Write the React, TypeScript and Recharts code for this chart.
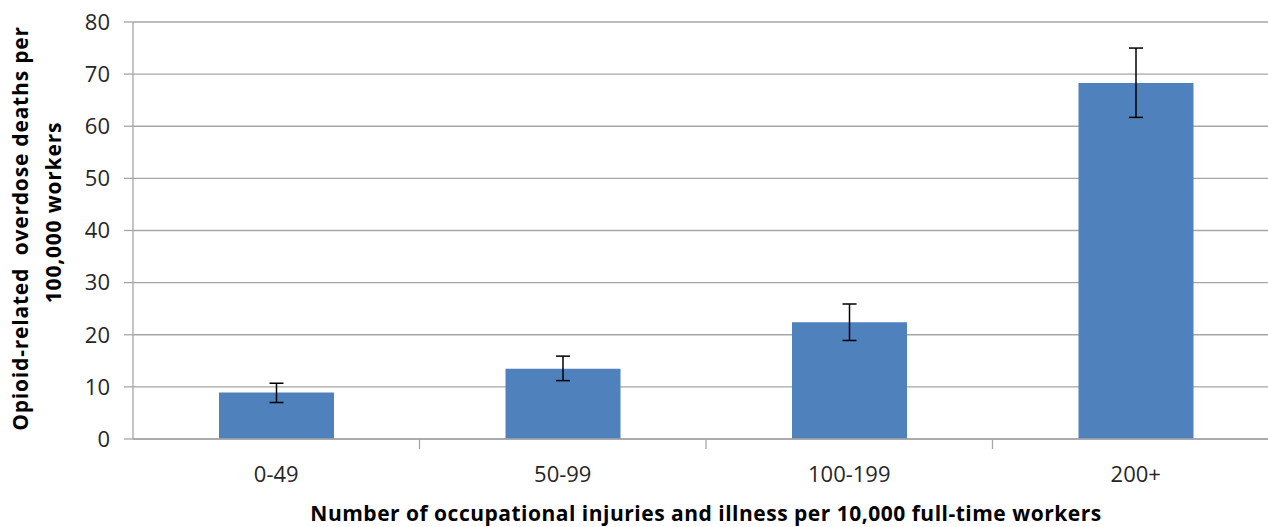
import { Bar, BarChart, CartesianGrid, ErrorBar, XAxis, YAxis } from "recharts";

const categories = ["0-49", "50-99", "100-199", "200+"];
const rates = [8.9, 13.5, 22.4, 68.3];
const lowerBounds = [7.0, 11.2, 18.9, 61.7];
const upperBounds = [10.7, 15.9, 25.9, 75.0];
const yTicks = [0, 10, 20, 30, 40, 50, 60, 70, 80];

const data = categories.map((name, i) => ({
  name,
  value: rates[i],
  err: [rates[i] - lowerBounds[i], upperBounds[i] - rates[i]]
}));

const CHART_W = 1280;
const Y_AXIS_W = 133;
const MARGIN = { top: 22, right: 1, bottom: 0, left: 0 };
const band = (CHART_W - Y_AXIS_W - MARGIN.left - MARGIN.right) / categories.length;
const FONT = "'Open Sans', sans-serif";
const GRID = "#a6a6a6";

function CategoryTick(props: any) {
  const { x, y, payload } = props;
  return (
    <g>
      <line x1={x + band / 2} x2={x + band / 2} y1={y - 8} y2={y + 2} stroke={GRID} strokeWidth={1.3} />
      <text x={x} y={y + 35} textAnchor="middle" fontFamily={FONT} fontSize={22} fill="#262626">
        {payload.value}
      </text>
    </g>
  );
}

function YTitle(props: any) {
  const vb = props.viewBox || {};
  const cy = vb.y + vb.height / 2;
  const style = { fontFamily: FONT, fontWeight: 700, fontSize: 21, letterSpacing: 0.8, fill: "#000", whiteSpace: "pre" as const };
  return (
    <g>
      <text x={28} y={cy - 2} transform={`rotate(-90 28 ${cy - 2})`} textAnchor="middle" style={style}>
        {"Opioid-related  overdose deaths per"}
      </text>
      <text x={61} y={cy - 18} transform={`rotate(-90 61 ${cy - 18})`} textAnchor="middle" style={style}>
        {"100,000 workers"}
      </text>
    </g>
  );
}

export default function App() {
  return (
    <div style={{ position: "absolute", left: 0, top: 0, width: 1268, height: 527, overflow: "hidden", background: "#fff" }}>
      <BarChart width={CHART_W} height={527} data={data} margin={MARGIN} barSize={115}>
        <CartesianGrid stroke={GRID} strokeWidth={1.3} vertical={false} />
        <XAxis
          dataKey="name"
          height={88}
          tickLine={false}
          axisLine={{ stroke: GRID, strokeWidth: 1.3 }}
          tick={<CategoryTick />}
          label={{
            value: "Number of occupational injuries and illness per 10,000 full-time workers",
            position: "insideBottom",
            offset: 6,
            style: { fontFamily: FONT, fontWeight: 700, fontSize: 21, letterSpacing: 0.5, fill: "#000" }
          }}
        />
        <YAxis
          width={Y_AXIS_W}
          domain={[0, 80]}
          ticks={yTicks}
          interval={0}
          tickSize={9}
          tickMargin={14}
          tickLine={{ stroke: GRID, strokeWidth: 1.3 }}
          axisLine={{ stroke: GRID, strokeWidth: 1.3 }}
          tick={{ fontFamily: FONT, fontSize: 22, fill: "#262626" }}
          label={<YTitle />}
        />
        <Bar dataKey="value" fill="#4f81bd" isAnimationActive={false}>
          <ErrorBar dataKey="err" width={7} stroke="#000" strokeWidth={1.5} direction="y" />
        </Bar>
      </BarChart>
    </div>
  );
}
